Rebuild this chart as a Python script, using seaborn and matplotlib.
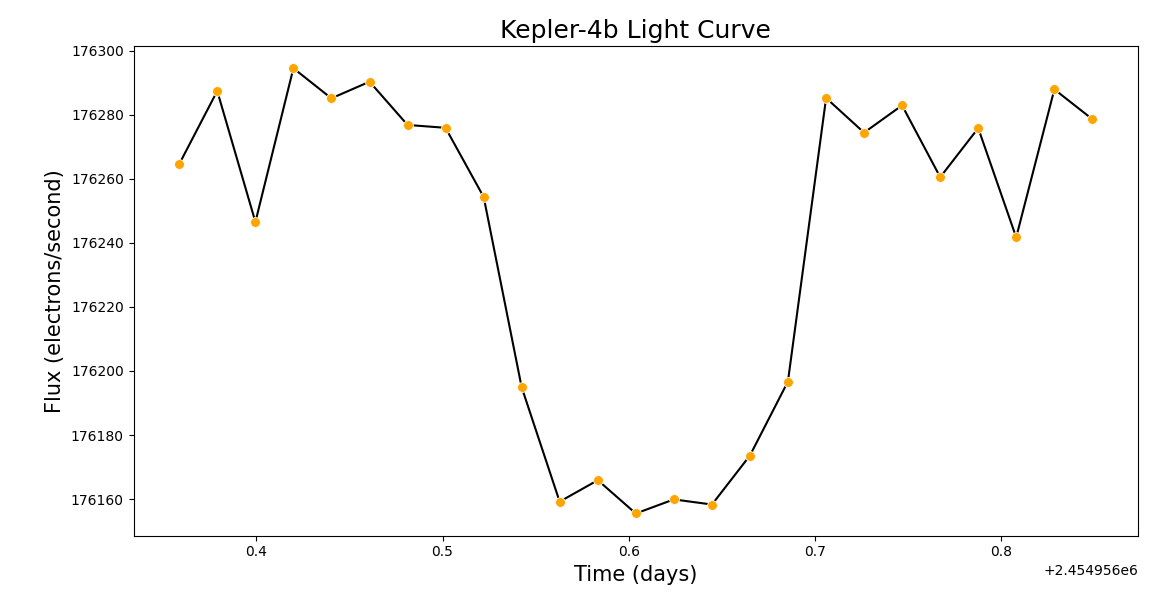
import numpy as np
import pandas as pd
import matplotlib
matplotlib.use("Agg")
import matplotlib.pyplot as plt
import seaborn as sns

# Kepler-4b transit, values (BJD)
time = [2454956.3586, 2454956.3790, 2454956.3995, 2454956.4199, 2454956.4403,
        2454956.4608, 2454956.4812, 2454956.5016, 2454956.5221, 2454956.5425,
        2454956.5629, 2454956.5834, 2454956.6038, 2454956.6242, 2454956.6447,
        2454956.6651, 2454956.6855, 2454956.7060, 2454956.7264, 2454956.7468,
        2454956.7673, 2454956.7877, 2454956.8081, 2454956.8286, 2454956.8490]
flux = [176264.6, 176287.4, 176246.5, 176294.5, 176285.1,
        176290.3, 176276.8, 176275.9, 176254.3, 176194.9,
        176159.2, 176165.9, 176155.5, 176159.9, 176158.3,
        176173.6, 176196.7, 176285.2, 176274.4, 176282.9,
        176260.5, 176275.8, 176241.7, 176287.9, 176278.6]

df = pd.DataFrame({"time": time, "flux": flux})

fig, ax = plt.subplots(figsize=(11.72, 6.13), dpi=100)
sns.lineplot(data=df, x="time", y="flux", color="black", ax=ax)
sns.scatterplot(data=df, x="time", y="flux", color="orange", s=50, zorder=3, ax=ax)

ax.set_title("Kepler-4b Light Curve", fontsize=18)
ax.set_xlabel("Time (days)", fontsize=15)
ax.set_ylabel("Flux (electrons/second)", fontsize=15)
ax.tick_params(labelsize=10)

plt.subplots_adjust(left=0.114, right=0.971, top=0.925, bottom=0.126)
plt.savefig("out.png", dpi=100)
